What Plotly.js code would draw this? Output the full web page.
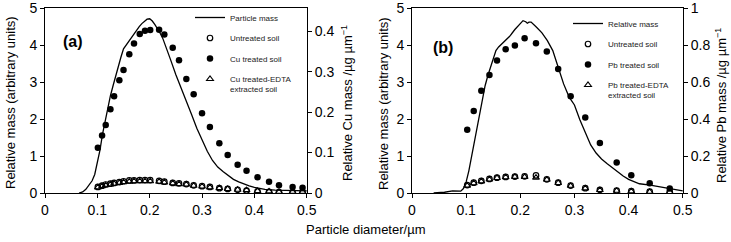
<!DOCTYPE html>
<html>
<head>
<meta charset="utf-8">
<script src="https://cdn.plot.ly/plotly-3.0.1.min.js"></script>
<style>html,body{margin:0;padding:0;background:#fff;}#chart{width:731px;height:242px;}</style>
</head>
<body>
<div id="chart"></div>
<script>
// ---------- Panel (a): Cu ----------
var curveA_x = [0.065,0.072,0.078,0.085,0.090,0.095,0.100,0.105,0.110,0.115,0.120,0.125,0.130,0.135,0.140,0.145,0.150,0.155,0.160,0.165,0.170,0.175,0.180,0.185,0.190,0.195,0.200,0.205,0.210,0.215,0.220,0.225,0.230,0.240,0.250,0.260,0.270,0.280,0.290,0.300,0.310,0.320,0.330,0.340,0.350,0.360,0.370,0.380,0.390,0.400,0.420,0.440,0.460,0.480,0.500];
var curveA_y = [0,0.03,0.10,0.22,0.33,0.50,0.80,1.16,1.60,1.98,2.35,2.63,2.90,3.18,3.43,3.67,3.90,4.00,4.12,4.20,4.30,4.40,4.50,4.58,4.65,4.70,4.71,4.65,4.55,4.45,4.32,4.18,4.00,3.60,3.20,2.85,2.52,2.12,1.75,1.42,1.13,0.88,0.70,0.58,0.47,0.37,0.30,0.24,0.19,0.15,0.10,0.08,0.07,0.06,0.06];

var ptsA_x = [0.101,0.109,0.116,0.125,0.132,0.142,0.150,0.161,0.170,0.181,0.191,0.201,0.218,0.228,0.244,0.256,0.270,0.284,0.300,0.315,0.333,0.349,0.368,0.385,0.406,0.428,0.447,0.473,0.492];
var cuTreated = [0.112,0.142,0.168,0.207,0.239,0.279,0.304,0.343,0.370,0.393,0.401,0.403,0.404,0.392,0.359,0.328,0.282,0.244,0.197,0.163,0.123,0.094,0.070,0.055,0.039,0.028,0.019,0.015,0.013];
var cuUntreated = [0.015,0.018,0.021,0.023,0.025,0.027,0.029,0.031,0.031,0.032,0.032,0.032,0.030,0.028,0.025,0.024,0.022,0.019,0.017,0.015,0.012,0.010,0.008,0.006,0.004,0.003,0.002,0.002,0.002];
var cuEdta = [0.014,0.017,0.019,0.021,0.023,0.025,0.027,0.028,0.029,0.029,0.029,0.029,0.028,0.026,0.024,0.022,0.021,0.018,0.016,0.014,0.012,0.010,0.008,0.007,0.005,0.004,0.003,0.003,0.003];

// ---------- Panel (b): Pb ----------
var curveB_x = [0.040,0.060,0.075,0.085,0.090,0.095,0.100,0.105,0.110,0.115,0.120,0.125,0.130,0.135,0.140,0.145,0.150,0.155,0.160,0.170,0.180,0.190,0.200,0.205,0.210,0.213,0.216,0.220,0.230,0.240,0.250,0.260,0.270,0.280,0.290,0.300,0.310,0.320,0.330,0.340,0.350,0.360,0.370,0.380,0.390,0.400,0.410,0.420,0.440,0.460,0.480,0.500];
var curveB_y = [0,0.02,0.06,0.05,0.05,0.12,0.30,0.60,0.99,1.37,1.80,2.20,2.60,2.90,3.17,3.42,3.62,3.85,3.95,4.10,4.23,4.42,4.60,4.66,4.63,4.59,4.62,4.62,4.48,4.33,4.12,3.85,3.40,2.95,2.60,2.38,1.98,1.62,1.30,1.08,0.92,0.80,0.68,0.56,0.46,0.37,0.30,0.25,0.21,0.16,0.11,0.06];

var ptsB_x = [0.102,0.114,0.128,0.143,0.157,0.173,0.190,0.208,0.229,0.249,0.270,0.293,0.320,0.347,0.378,0.405,0.439,0.476];
var pbTreated = [0.342,0.444,0.553,0.638,0.716,0.777,0.797,0.837,0.810,0.765,0.670,0.523,0.408,0.270,0.165,0.096,0.053,0.025];
var pbUntreated = [0.043,0.056,0.066,0.076,0.083,0.087,0.089,0.090,0.095,0.074,0.056,0.040,0.026,0.017,0.013,0.010,0.007,0.006];
var pbEdta = [0.040,0.053,0.063,0.073,0.081,0.085,0.087,0.087,0.083,0.072,0.054,0.039,0.025,0.016,0.012,0.009,0.006,0.005];

var FONT = 'Liberation Sans, Arial, sans-serif';
var W = 731, H = 242;
function px(x){ return x / W; }
function py(y){ return (H - y) / H; }

var lineStyle = {color:'#000', width:1.3};
var mFilled = {symbol:'circle', size:6.5, color:'#000'};
var mOpen = {symbol:'circle-open', size:5.5, color:'#000', line:{width:1.2, color:'#000'}};
var mTri = {symbol:'triangle-up-open', size:6, color:'#000', line:{width:1.1, color:'#000'}};

var traces = [
  {x:curveA_x, y:curveA_y, mode:'lines', line:lineStyle, name:'Particle mass', xaxis:'x', yaxis:'y', legend:'legend', legendgroup:'a1'},
  {x:ptsA_x, y:cuUntreated, mode:'markers', marker:mOpen, name:'Untreated soil', xaxis:'x', yaxis:'y2', legend:'legend', legendgroup:'a2'},
  {x:ptsA_x, y:cuTreated, mode:'markers', marker:mFilled, name:'Cu treated soil', xaxis:'x', yaxis:'y2', legend:'legend', legendgroup:'a3'},
  {x:ptsA_x, y:cuEdta, mode:'markers', marker:mTri, name:'Cu treated-EDTA', xaxis:'x', yaxis:'y2', legend:'legend', legendgroup:'a4'},
  {x:curveB_x, y:curveB_y, mode:'lines', line:lineStyle, name:'Relative mass', xaxis:'x2', yaxis:'y3', legend:'legend2', legendgroup:'b1'},
  {x:ptsB_x, y:pbUntreated, mode:'markers', marker:mOpen, name:'Untreated soil', xaxis:'x2', yaxis:'y4', legend:'legend2', legendgroup:'b2'},
  {x:ptsB_x, y:pbTreated, mode:'markers', marker:mFilled, name:'Pb treated soil', xaxis:'x2', yaxis:'y4', legend:'legend2', legendgroup:'b3'},
  {x:ptsB_x, y:pbEdta, mode:'markers', marker:mTri, name:'Pb treated-EDTA', xaxis:'x2', yaxis:'y4', legend:'legend2', legendgroup:'b4'}
];

var tickFont = {family:FONT, size:14, color:'#000'};
var yDom = [py(193), py(8)];
function xAx(dom, anchor){
  return {domain:dom, anchor:anchor, range:[0,0.5005], dtick:0.1, tick0:0, ticks:'outside', ticklen:4, tickwidth:1, tickcolor:'#000',
    showline:true, linecolor:'#000', linewidth:1, mirror:true, showgrid:false, zeroline:false, tickfont:tickFont, ticklabeloverflow:'allow'};
}
function yAx(anchor, range, dtick, side, overlay){
  var o = {anchor:anchor, domain:yDom, range:range, dtick:dtick, tick0:0, ticks:'outside', ticklen:4, tickwidth:1, tickcolor:'#000',
    showline:true, linecolor:'#000', linewidth:1, showgrid:false, zeroline:false, tickfont:tickFont, side:side, ticklabeloverflow:'allow'};
  if (overlay) o.overlaying = overlay;
  return o;
}

var legFont = {family:FONT, size:8, color:'#222'};
var layout = {
  width:W, height:H,
  margin:{l:0, r:0, t:0, b:0},
  paper_bgcolor:'#fff', plot_bgcolor:'rgba(0,0,0,0)',
  font:{family:FONT, color:'#000'},
  xaxis: xAx([px(45), px(307)], 'y'),
  yaxis: yAx('x', [0,5.002], 1, 'left'),
  yaxis2: yAx('x', [0,0.4575], 0.1, 'right', 'y'),
  xaxis2: xAx([px(412), px(683)], 'y3'),
  yaxis3: yAx('x2', [0,5.002], 1, 'left'),
  yaxis4: yAx('x2', [0,1.0004], 0.2, 'right', 'y3'),
  legend: {x:px(190), y:py(3), xanchor:'left', yanchor:'top', bgcolor:'rgba(0,0,0,0)', font:legFont, traceorder:'grouped', tracegroupgap:1.5, itemwidth:30},
  legend2: {x:px(568), y:py(9), xanchor:'left', yanchor:'top', bgcolor:'rgba(0,0,0,0)', font:legFont, traceorder:'grouped', tracegroupgap:1.5, itemwidth:30},
  showlegend:true,
  annotations: [
    {text:'<b>(a)</b>', x:px(61), y:py(42), xref:'paper', yref:'paper', xanchor:'left', yanchor:'middle', showarrow:false, font:{family:FONT, size:16, color:'#000'}},
    {text:'<b>(b)</b>', x:px(431), y:py(47), xref:'paper', yref:'paper', xanchor:'left', yanchor:'middle', showarrow:false, font:{family:FONT, size:16, color:'#000'}},
    {text:'extracted soil', x:px(228), y:py(89.5), xref:'paper', yref:'paper', xanchor:'left', yanchor:'middle', showarrow:false, font:legFont},
    {text:'extracted soil', x:px(606), y:py(95), xref:'paper', yref:'paper', xanchor:'left', yanchor:'middle', showarrow:false, font:legFont},
    {text:'Relative mass (arbitrary units)', x:px(10), y:py(103), xref:'paper', yref:'paper', xanchor:'center', yanchor:'middle', textangle:-90, showarrow:false, font:{family:FONT, size:13, color:'#000'}},
    {text:'Relative Cu mass /µg µm<sup>−1</sup>', x:px(347), y:py(103), xref:'paper', yref:'paper', xanchor:'center', yanchor:'middle', textangle:-90, showarrow:false, font:{family:FONT, size:13, color:'#000'}},
    {text:'Relative mass (arbitrary units)', x:px(383), y:py(103), xref:'paper', yref:'paper', xanchor:'center', yanchor:'middle', textangle:-90, showarrow:false, font:{family:FONT, size:13, color:'#000'}},
    {text:'Relative Pb mass /µg µm<sup>−1</sup>', x:px(721), y:py(106), xref:'paper', yref:'paper', xanchor:'center', yanchor:'middle', textangle:-90, showarrow:false, font:{family:FONT, size:13, color:'#000'}},
    {text:'Particle diameter/µm', x:px(365), y:py(229), xref:'paper', yref:'paper', xanchor:'center', yanchor:'middle', showarrow:false, font:{family:FONT, size:13, color:'#000'}}
  ]
};

Plotly.newPlot('chart', traces, layout, {staticPlot:true, displayModeBar:false});
</script>
</body>
</html>
